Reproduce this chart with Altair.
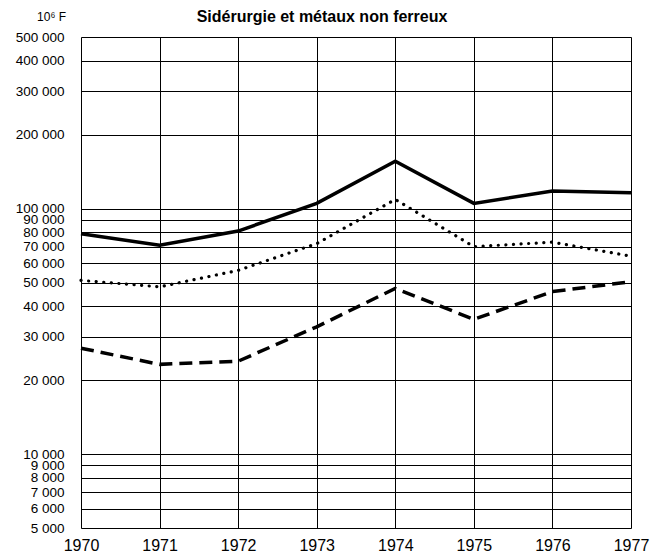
import altair as alt
import pandas as pd

years = [1970, 1971, 1972, 1973, 1974, 1975, 1976, 1977]
serie_continue = [79000, 71000, 81000, 105000, 156000, 105000, 118000, 116000]
serie_pointillee = [51000, 48000, 56000, 72000, 109000, 70000, 73000, 64000]
serie_tiretee = [27000, 23200, 23900, 33000, 47300, 35400, 45900, 50400]
y_ticks = [5000, 6000, 7000, 8000, 9000, 10000, 20000, 30000, 40000, 50000,
           60000, 70000, 80000, 90000, 100000, 200000, 300000, 400000, 500000]
titre = "Sidérurgie et métaux non ferreux"

FONT = "Liberation Sans"


def frame(vals, name):
    return pd.DataFrame({"année": years, "valeur": vals, "série": name})


x_enc = alt.X(
    "année:Q",
    scale=alt.Scale(domain=[1970, 1977], nice=False, zero=False),
    axis=alt.Axis(values=years, format="d", grid=True, gridColor="black",
                  gridWidth=1, gridOpacity=1, ticks=False, domain=False,
                  labelFontSize=16, labelPadding=9, labelFlush=False,
                  labelColor="black", labelFont=FONT, title=None),
)
y_enc = alt.Y(
    "valeur:Q",
    scale=alt.Scale(type="log", domain=[5000, 500000], nice=False),
    axis=alt.Axis(values=y_ticks,
                  labelExpr="replace(format(datum.value, ','), ',', ' ')",
                  grid=True, gridColor="black", gridWidth=1, gridOpacity=1,
                  ticks=False, domain=False, labelOverlap=False,
                  labelFontSize=13.5, labelPadding=17, labelColor="black",
                  labelFont=FONT, labelFlush=False,
                  title="10⁶ F", titleAngle=0, titleX=-30, titleY=-21,
                  titleAlign="center", titleBaseline="middle",
                  titleFontSize=12, titleFontWeight="normal", titleFont=FONT,
                  titleColor="black"),
)

solid = alt.Chart(frame(serie_continue, "A")).mark_line(
    color="black", strokeWidth=3.5).encode(x=x_enc, y=y_enc)
dotted = alt.Chart(frame(serie_pointillee, "B")).mark_line(
    color="black", strokeWidth=3.2, strokeDash=[0.1, 7.5], strokeCap="round").encode(x=x_enc, y=y_enc)
dashed = alt.Chart(frame(serie_tiretee, "C")).mark_line(
    color="black", strokeWidth=3.5, strokeDash=[13, 7]).encode(x=x_enc, y=y_enc)

title_mark = alt.Chart(pd.DataFrame({"t": [titre]})).mark_text(
    font=FONT, fontSize=16, fontWeight="bold", color="black",
    align="center", baseline="middle").encode(
    text="t:N", x=alt.value(241), y=alt.value(-20))

chart = alt.layer(solid, dotted, dashed, title_mark).properties(
    width=550, height=491,
    autosize=alt.AutoSizeParams(type="none"),
    padding={"left": 73, "top": 29, "right": 27, "bottom": 30},
).configure_view(stroke="black", strokeWidth=2).configure(background="white")

chart.save("out.html", embed_options={"renderer": "svg", "actions": False})
